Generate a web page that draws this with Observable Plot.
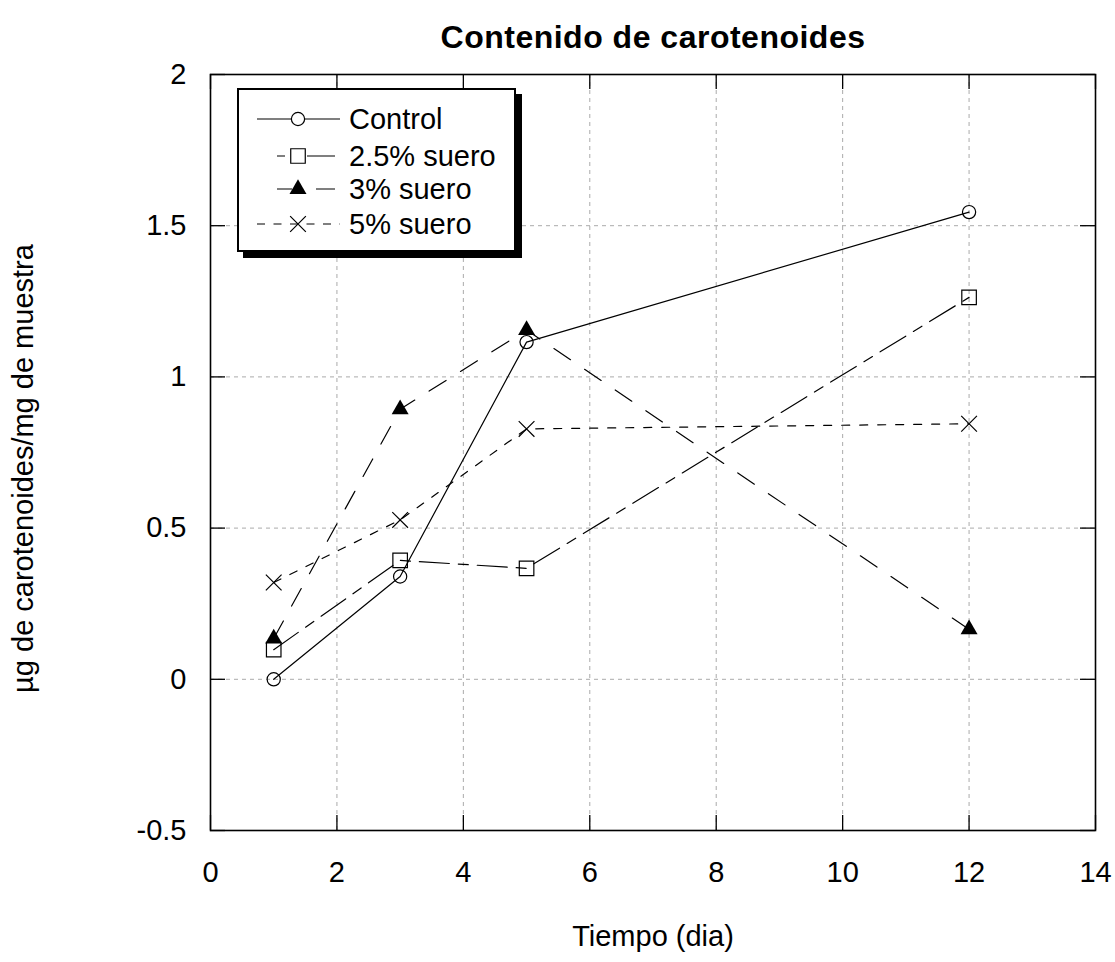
<!DOCTYPE html>
<html>
<head>
<meta charset="utf-8">
<script src="https://cdn.jsdelivr.net/npm/d3@7"></script>
<script src="https://cdn.jsdelivr.net/npm/@observablehq/plot@0.6"></script>
<style>
  html, body { margin: 0; padding: 0; background: #fff; }
  #wrap { position: relative; width: 1115px; height: 962px; font-family: "Liberation Sans", Arial, sans-serif; }
  #legend { position: absolute; left: 237px; top: 88px; width: 275px; height: 160px; border: 2px solid #000; background: #fff; box-shadow: 6px 6px 0 #000; }
  #legend svg { display: block; }
</style>
</head>
<body>
<div id="wrap"></div>
<script>
// ---- data ----
const days = [1, 3, 5, 12];
const seriesNames = ["Control", "2.5% suero", "3% suero", "5% suero"];
const control = [0.0, 0.34, 1.115, 1.545];
const suero25 = [0.098, 0.393, 0.367, 1.263];
const suero3 = [0.135, 0.893, 1.155, 0.165];
const suero5 = [0.32, 0.527, 0.828, 0.845];
const xTicks = [0, 2, 4, 6, 8, 10, 12, 14];
const yTicks = [-0.5, 0, 0.5, 1, 1.5, 2];
const title = "Contenido de carotenoides";
const xLabel = "Tiempo (dia)";
const yLabel = "µg de carotenoides/mg de muestra";

// ---- styles ----
const styles = [
  {symbol: "circle", fill: "none", dash: null, r: 6.6, legDash: null},
  {symbol: "square", fill: "none", dash: "30,9,10,9", r: 8.2, legDash: "0,20,8,22,28,20"},
  {symbol: "triangle", fill: "#000", dash: "20,17", r: 6.3, legDash: "0,20,15,24,19,20"},
  {symbol: "times", fill: "none", dash: "8,10", r: 7.2, legDash: "8,8.5"}
];
const allValues = [control, suero25, suero3, suero5];
const data = seriesNames.map((name, i) => days.map((d, j) => ({day: d, value: allValues[i][j], serie: name})));

const W = 1115, H = 962;
const mL = 210, mR = 20, mT = 74, mB = 132;
const fw = W - mL - mR, fh = H - mT - mB;
const font = "Liberation Sans, Arial, sans-serif";
const tk = 15;

const marks = [
  Plot.ruleX(xTicks.slice(1, -1), {stroke: "#aaa", strokeDasharray: "4,4", strokeWidth: 1}),
  Plot.ruleY(yTicks.slice(1, -1), {stroke: "#aaa", strokeDasharray: "4,4", strokeWidth: 1}),
  Plot.ruleX(xTicks, {stroke: "#000", strokeWidth: 1.3, insetTop: fh - tk}),
  Plot.ruleX(xTicks, {stroke: "#000", strokeWidth: 1.3, insetBottom: fh - tk}),
  Plot.ruleY(yTicks, {stroke: "#000", strokeWidth: 1.3, insetRight: fw - tk}),
  Plot.ruleY(yTicks, {stroke: "#000", strokeWidth: 1.3, insetLeft: fw - tk}),
  Plot.frame({stroke: "#000", strokeWidth: 1.6})
];
data.forEach((rows, i) => {
  const s = styles[i];
  marks.push(Plot.line(rows, {x: "day", y: "value", stroke: "#000", strokeWidth: 1.2, strokeDasharray: s.dash}));
});
data.forEach((rows, i) => {
  const s = styles[i];
  marks.push(Plot.dot(rows, {x: "day", y: "value", symbol: () => s.symbol, r: s.r, stroke: s.fill === "none" ? "#000" : "none", fill: s.fill, strokeWidth: 1.2}));
});
marks.push(
  Plot.axisX({ticks: xTicks, tickSize: 0, tickPadding: 31, label: null, fontSize: 29, tickFormat: d => String(d)}),
  Plot.axisY({ticks: yTicks, tickSize: 0, tickPadding: 24, label: null, fontSize: 29, tickFormat: d => String(d)}),
  Plot.text([title], {frameAnchor: "top", dy: -49, fontSize: 32, fontWeight: "bold", fill: "#000"}),
  Plot.text([xLabel], {frameAnchor: "bottom", dy: 115, fontSize: 29, fill: "#000"}),
  Plot.text([yLabel], {frameAnchor: "left", dx: -187, dy: 16, rotate: -90, textAnchor: "middle", fontSize: 29, fill: "#000"})
);

const chart = Plot.plot({
  width: W, height: H,
  marginLeft: mL, marginRight: mR, marginTop: mT, marginBottom: mB,
  x: {domain: [0, 14]},
  y: {domain: [-0.5, 2]},
  style: {fontFamily: font, fontSize: "29px", color: "#000", background: "#fff"},
  marks
});
d3.select(chart).selectAll("text").filter(function() { return this.textContent === title; })
  .style("letter-spacing", "0.5px");
const wrap = document.getElementById("wrap");
wrap.appendChild(chart);

// ---- legend (overlay) ----
const leg = document.createElement("div");
leg.id = "legend";
wrap.appendChild(leg);
const lsvg = d3.select(leg).append("svg").attr("width", 275).attr("height", 160);
const rowY = [29, 66, 99, 134];
seriesNames.forEach((name, i) => {
  const s = styles[i];
  const g = lsvg.append("g").attr("transform", `translate(0,${rowY[i]})`);
  g.append("line").attr("x1", 18).attr("x2", 101).attr("y1", 0).attr("y2", 0)
    .attr("stroke", "#000").attr("stroke-width", 1.2)
    .attr("stroke-dasharray", s.legDash);
  const sym = {circle: d3.symbolCircle, square: d3.symbolSquare, triangle: d3.symbolTriangle, times: d3.symbolTimes}[s.symbol];
  if (s.symbol === "circle") g.append("circle").attr("cx", 59).attr("cy", 0).attr("r", s.r).attr("fill", "#fff");
  g.append("path").attr("d", d3.symbol(sym, Math.PI * s.r * s.r)()).attr("transform", "translate(59,0)")
    .attr("fill", s.fill).attr("stroke", s.fill === "none" ? "#000" : "none").attr("stroke-width", 1.2);
  g.append("text").attr("x", 110).attr("y", 0).attr("dy", "0.35em").attr("font-size", 29)
    .attr("font-family", font).text(name);
});
</script>
</body>
</html>
